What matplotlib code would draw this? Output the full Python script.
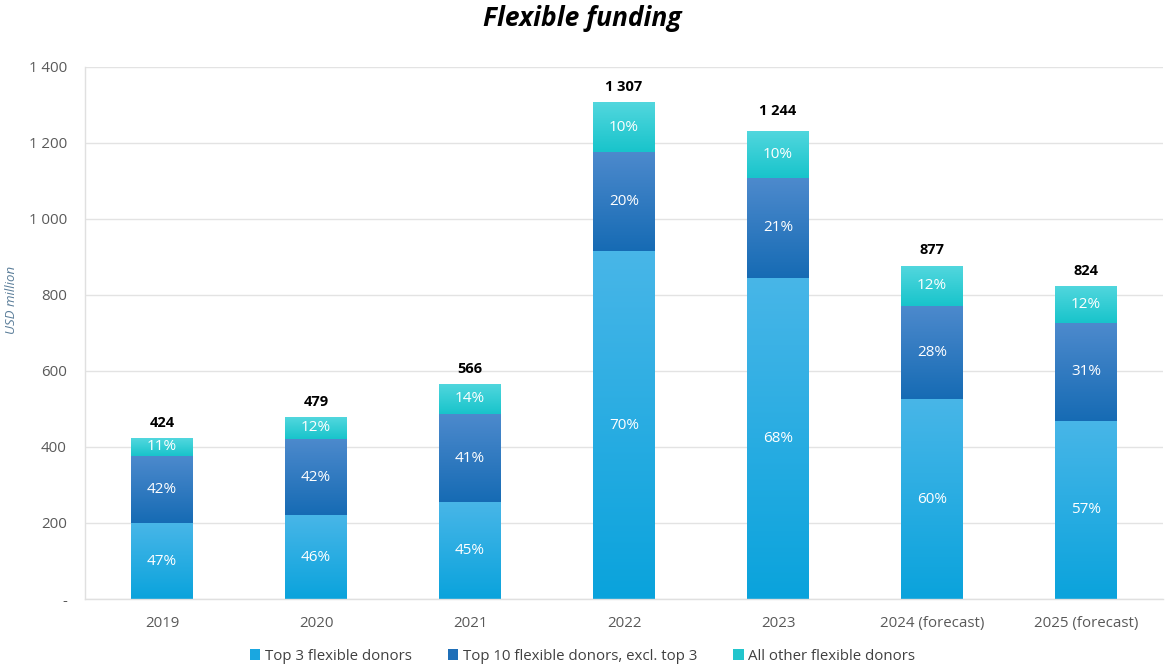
import numpy as np
import matplotlib.pyplot as plt
from matplotlib.colors import LinearSegmentedColormap
from matplotlib.patches import Patch

plt.rcParams['font.family'] = ['Open Sans', 'DejaVu Sans']

# Data
years = ["2019", "2020", "2021", "2022", "2023", "2024 (forecast)", "2025 (forecast)"]
totals = [424, 479, 566, 1307, 1244, 877, 824]
share_top3 = [47, 46, 45, 70, 68, 60, 57]
share_top10 = [42, 42, 41, 20, 21, 28, 31]
share_other = [11, 12, 14, 10, 10, 12, 12]
series_names = ["Top 3 flexible donors", "Top 10 flexible donors, excl. top 3",
                "All other flexible donors"]

# Colours: (solid legend colour, gradient bottom, gradient top)
palette = [
    ("#1aa7e0", "#0aa3dc", "#48b6e8"),
    ("#1f6fb8", "#166bb4", "#4d8acd"),
    ("#22c5cc", "#18c4cb", "#52d7de"),
]

shares = [share_top3, share_top10, share_other]

fig = plt.figure(figsize=(11.65, 6.68), dpi=100)
ax = fig.add_axes([85 / 1165, 1 - 599 / 668, (1163 - 85) / 1165, (599 - 67) / 668])

x = np.arange(len(years))
width = 0.4
bottoms = np.zeros(len(years))
grad = np.linspace(0, 1, 256).reshape(-1, 1)

for si, share in enumerate(shares):
    vals = np.array(totals) * np.array(share) / 100.0
    solid, c_bot, c_top = palette[si]
    cmap = LinearSegmentedColormap.from_list(f"g{si}", [c_bot, c_top])
    bars = ax.bar(x, vals, width, bottom=bottoms, color=solid, zorder=2,
                  linewidth=0)
    for bar, v, b, p in zip(bars, vals, bottoms, share):
        x0 = bar.get_x()
        img = ax.imshow(grad, cmap=cmap, origin="lower", aspect="auto",
                        extent=[x0, x0 + bar.get_width(), b, b + v], zorder=2.5)
        img.set_clip_path(bar)
        ax.text(bar.get_x() + bar.get_width() / 2, b + v / 2, f"{p}%",
                ha="center", va="center", color="white", fontsize=11, zorder=4)
    bottoms = bottoms + vals

for xi, t in zip(x, totals):
    ax.text(xi, t + 22, f"{t:,}".replace(",", " "), ha="center", va="bottom",
            fontsize=10.5, fontweight="bold", color="black", zorder=4)

ax.set_xlim(-0.5, len(years) - 0.5)
ax.set_ylim(0, 1400)
ax.set_xticks(x)
ax.set_xticklabels(years)
yt = np.arange(0, 1401, 200)
ax.set_yticks(yt)
ax.set_yticklabels(["-" if v == 0 else f"{v:,}".replace(",", " ") for v in yt])
ax.tick_params(axis="both", length=0, labelsize=10.8, labelcolor="#595959")
ax.tick_params(axis="x", pad=12)
ax.tick_params(axis="y", pad=13)
ax.grid(axis="y", color="#e3e3e3", linewidth=1, zorder=0)
ax.set_axisbelow(True)
for side in ["top", "right"]:
    ax.spines[side].set_visible(False)
for side in ["left", "bottom"]:
    ax.spines[side].set_color("#e0e0e0")
    ax.spines[side].set_linewidth(1)

ax.set_ylabel("USD million", fontsize=9.5, style="italic", color="#5a7d99")
ax.yaxis.label.set_verticalalignment("center")
ax.yaxis.set_label_coords((12 - 85) / 1078, 0.562)

fig.text(0.5, 1 - 19 / 668, "Flexible funding", ha="center", va="center",
         fontsize=19, fontweight="bold", style="italic", color="black")

handles = [Patch(facecolor=p[0], edgecolor="none") for p in palette]
fig.legend(handles, series_names, loc="center", bbox_to_anchor=(0.5, 1 - 656 / 668),
           ncol=3, frameon=False, fontsize=10.8, handlelength=0.7,
           handleheight=0.7, handletextpad=0.3, columnspacing=2.4,
           labelcolor="#404040")

fig.savefig("out.png", dpi=100)
